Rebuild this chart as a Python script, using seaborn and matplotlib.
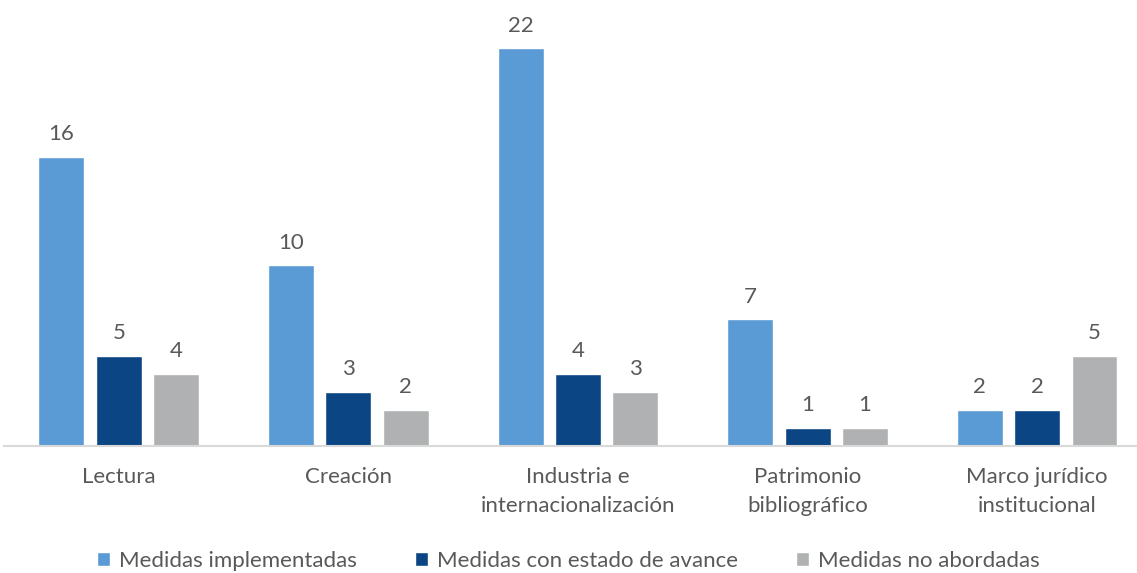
import matplotlib
matplotlib.use("Agg")
import matplotlib.pyplot as plt
import seaborn as sns
import pandas as pd

categories = ["Lectura", "Creación", "Industria e\ninternacionalización",
              "Patrimonio\nbibliográfico", "Marco jurídico\ninstitucional"]
series = ["Medidas implementadas", "Medidas con estado de avance", "Medidas no abordadas"]
implementadas = [16, 10, 22, 7, 2]
avance = [5, 3, 4, 1, 2]
no_abordadas = [4, 2, 3, 1, 5]
colors = ["#5B9BD5", "#0B4584", "#B0B1B3"]

rows = []
for s, vals in zip(series, [implementadas, avance, no_abordadas]):
    for c, v in zip(categories, vals):
        rows.append({"Categoría": c, "Serie": s, "Valor": v})
df = pd.DataFrame(rows)

sns.set_theme(style="white")
plt.rcParams["font.family"] = ["Lato", "DejaVu Sans"]
text_color = "#595959"

fig = plt.figure(figsize=(11.37, 5.73), dpi=100)
ax = fig.add_axes([4/1137, (573-446)/573, 1133/1137, 436/573])

sns.barplot(data=df, x="Categoría", y="Valor", hue="Serie", order=categories,
            hue_order=series, palette=colors, width=0.75, gap=0.2,
            saturation=1, ax=ax, legend=True)

for cont in ax.containers:
    ax.bar_label(cont, padding=9, fontsize=16, color=text_color)

ax.set_xlim(-0.5, 4.435)
ax.set_ylim(0, 436/18.09)
ax.set_xlabel("")
ax.set_ylabel("")
ax.set_yticks([])
for side in ["left", "right", "top"]:
    ax.spines[side].set_visible(False)
ax.spines["bottom"].set_color("#D9D9D9")
ax.spines["bottom"].set_linewidth(1.5)
ax.tick_params(axis="x", length=0, pad=15, labelsize=16, labelcolor=text_color)
for lbl in ax.get_xticklabels():
    lbl.set_linespacing(1.55)

handles, labels = ax.get_legend_handles_labels()
ax.get_legend().remove()
leg = fig.legend(handles, labels, loc="center", bbox_to_anchor=(0.5, 1 - 561/573),
                 ncol=3, frameon=False, fontsize=16, handlelength=0.6, handleheight=0.6,
                 handletextpad=0.4, columnspacing=2.6, labelcolor=text_color)

fig.savefig("out.png", dpi=100)
